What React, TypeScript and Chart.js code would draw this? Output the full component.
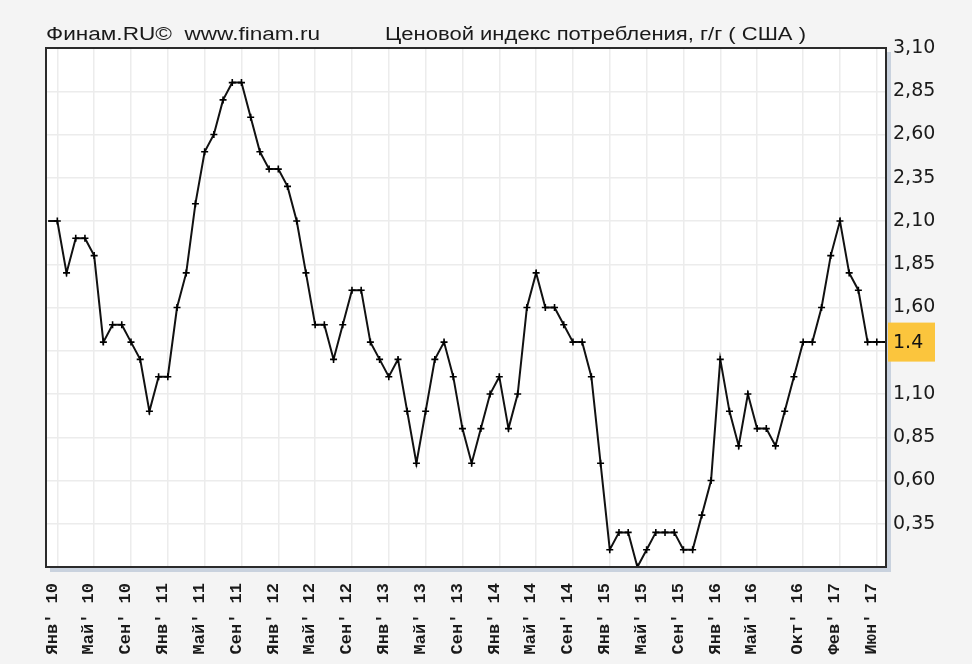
import React, { useEffect, useRef } from "react";
import { Chart, registerables } from "chart.js";

Chart.register(...registerables);

// Month index 0 = Jan 2010; first value is Dec 2009 (index -1)
const firstMonthIndex = -1;
const cpiValues: number[] = [
  2.1,
  // 2010
  2.1, 1.8, 2.0, 2.0, 1.9, 1.4, 1.5, 1.5, 1.4, 1.3, 1.0, 1.2,
  // 2011
  1.2, 1.6, 1.8, 2.2, 2.5, 2.6, 2.8, 2.9, 2.9, 2.7, 2.5, 2.4,
  // 2012
  2.4, 2.3, 2.1, 1.8, 1.5, 1.5, 1.3, 1.5, 1.7, 1.7, 1.4, 1.3,
  // 2013
  1.2, 1.3, 1.0, 0.7, 1.0, 1.3, 1.4, 1.2, 0.9, 0.7, 0.9, 1.1,
  // 2014
  1.2, 0.9, 1.1, 1.6, 1.8, 1.6, 1.6, 1.5, 1.4, 1.4, 1.2, 0.7,
  // 2015
  0.2, 0.3, 0.3, 0.1, 0.2, 0.3, 0.3, 0.3, 0.2, 0.2, 0.4, 0.6,
  // 2016
  1.3, 1.0, 0.8, 1.1, 0.9, 0.9, 0.8, 1.0, 1.2, 1.4, 1.4, 1.6,
  // 2017
  1.9, 2.1, 1.8, 1.7, 1.4, 1.4, 1.4,
];

const xTickIndex: number[] = [0, 4, 8, 12, 16, 20, 24, 28, 32, 36, 40, 44, 48, 52, 56, 60, 64, 68, 72, 76, 81, 85, 89];
const xTickLabels: string[] = [
  "Янв' 10", "Май' 10", "Сен' 10",
  "Янв' 11", "Май' 11", "Сен' 11",
  "Янв' 12", "Май' 12", "Сен' 12",
  "Янв' 13", "Май' 13", "Сен' 13",
  "Янв' 14", "Май' 14", "Сен' 14",
  "Янв' 15", "Май' 15", "Сен' 15",
  "Янв' 16", "Май' 16", "Окт' 16",
  "Фев' 17", "Июн' 17",
];
const yTickValues: number[] = [0.35, 0.6, 0.85, 1.1, 1.35, 1.6, 1.85, 2.1, 2.35, 2.6, 2.85, 3.1];
const yMin = 0.1;
const yMax = 3.1;
const xMin = -1.23;
const xMax = 90;
const lastValueText = "1.4";
const headerLeft = "Финам.RU©  www.finam.ru";
const headerTitle = "Ценовой индекс потребления, г/г ( США )";

function drawFitted(ctx: CanvasRenderingContext2D, text: string, x: number, y: number, w: number) {
  const m = ctx.measureText(text).width;
  ctx.save();
  ctx.translate(x, y);
  ctx.scale(w / m, 1);
  ctx.fillText(text, 0, 0);
  ctx.restore();
}

const decorPlugin = {
  id: "decor",
  beforeDraw(chart: any) {
    const { ctx, chartArea: a, width, height } = chart;
    ctx.save();
    ctx.fillStyle = "#f4f4f4";
    ctx.fillRect(0, 0, width, height);
    ctx.fillStyle = "#ffffff";
    ctx.fillRect(a.left, a.top, a.right - a.left, a.bottom - a.top);
    ctx.restore();
  },
  afterDraw(chart: any) {
    const { ctx, chartArea: a } = chart;
    ctx.save();
    // shadow
    ctx.fillStyle = "#c9d2de";
    ctx.fillRect(a.right + 1, a.top + 4, 4, a.bottom - a.top + 1);
    ctx.fillRect(a.left + 4, a.bottom + 1, a.right - a.left + 1, 4);
    // border
    ctx.strokeStyle = "#2b2b2b";
    ctx.lineWidth = 2;
    ctx.strokeRect(a.left, a.top, a.right - a.left, a.bottom - a.top);
    // header
    ctx.fillStyle = "#1a1a1a";
    ctx.font = "18px 'Liberation Sans'";
    ctx.textBaseline = "alphabetic";
    ctx.textAlign = "left";
    drawFitted(ctx, headerLeft, 46, 40, 274);
    drawFitted(ctx, headerTitle, 385, 40, 421);
    // last value highlight
    const yScale = chart.scales.y;
    const lastVal = cpiValues[cpiValues.length - 1];
    const py = yScale.getPixelForValue(lastVal);
    ctx.fillStyle = "#fbc53d";
    ctx.fillRect(a.right + 2, py - 19.5, 47, 39);
    ctx.fillStyle = "#111";
    ctx.font = "19px 'DejaVu Sans'";
    ctx.textBaseline = "middle";
    ctx.fillText(lastValueText, a.right + 7, py + 1);
    ctx.restore();
  },
};

export default function App() {
  const ref = useRef<HTMLCanvasElement | null>(null);
  useEffect(() => {
    document.body.style.margin = "0";
    const canvas = ref.current;
    if (!canvas) return;
    const points = cpiValues.map((v, i) => ({ x: firstMonthIndex + i, y: v }));
    const radii = cpiValues.map((_, i) => (i === 0 ? 0 : 3.5));
    const chart = new Chart(canvas, {
      type: "line",
      data: {
        datasets: [
          {
            data: points,
            borderColor: "#111",
            borderWidth: 2,
            tension: 0,
            pointStyle: "cross",
            pointRadius: radii,
            pointHoverRadius: radii,
            pointBorderColor: "#000",
            pointBorderWidth: 1.6,
            pointBackgroundColor: "#000",
          },
        ],
      },
      options: {
        animation: false,
        responsive: false,
        devicePixelRatio: 1,
        layout: { padding: { left: 46, top: 48, right: 0, bottom: 0 } },
        plugins: { legend: { display: false }, tooltip: { enabled: false }, title: { display: false } },
        scales: {
          x: {
            type: "linear",
            min: xMin,
            max: xMax,
            bounds: "data",
            afterBuildTicks: (axis: any) => {
              axis.ticks = xTickIndex.map((v) => ({ value: v }));
            },
            afterFit: (axis: any) => {
              axis.height = 97;
            },
            grid: { color: "#ececec", lineWidth: 1.5, drawTicks: false },
            border: { display: false },
            ticks: {
              autoSkip: false,
              maxRotation: 90,
              minRotation: 90,
              padding: 16,
              labelOffset: -5,
              color: "#1a1a1a",
              font: { family: "'Liberation Mono'", size: 17, weight: "bold" },
              callback: (v: any) => {
                const k = xTickIndex.indexOf(Number(v));
                return k >= 0 ? xTickLabels[k] : "";
              },
            },
          },
          y: {
            position: "right",
            min: yMin,
            max: yMax,
            afterBuildTicks: (axis: any) => {
              axis.ticks = yTickValues.map((v) => ({ value: v }));
            },
            afterFit: (axis: any) => {
              axis.width = 86;
            },
            grid: { color: "#ececec", lineWidth: 1.5, drawTicks: false },
            border: { display: false },
            ticks: {
              padding: 7,
              color: "#1a1a1a",
              font: { family: "'DejaVu Sans'", size: 19 },
              callback: (v: any) => Number(v).toFixed(2).replace(".", ","),
            },
          },
        },
      },
      plugins: [decorPlugin],
    });
    return () => chart.destroy();
  }, []);
  return (
    <div style={{ width: 972, height: 664 }}>
      <canvas ref={ref} width={972} height={664} style={{ display: "block" }} />
    </div>
  );
}
